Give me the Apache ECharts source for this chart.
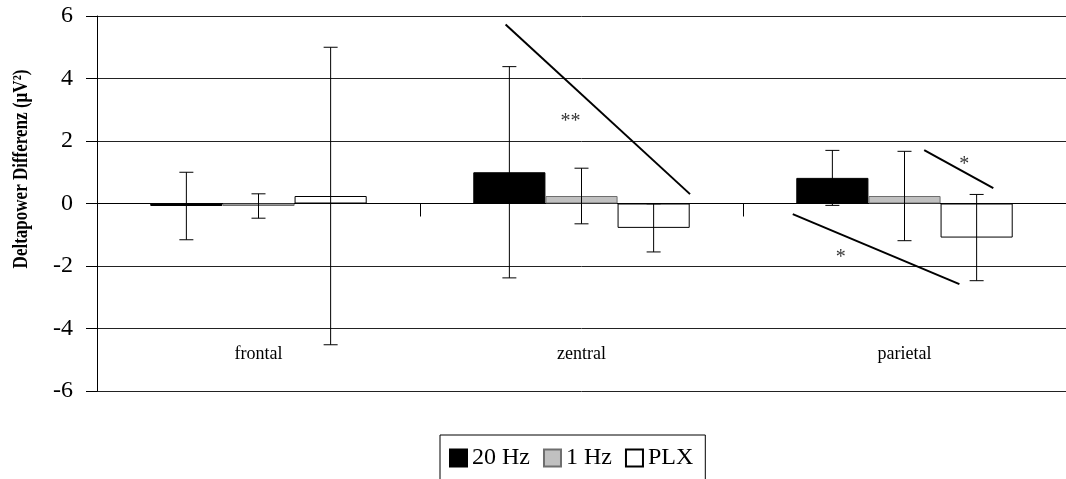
<!DOCTYPE html>
<html>
<head>
<meta charset="utf-8">
<script src="https://cdn.jsdelivr.net/npm/echarts@6/dist/echarts.min.js"></script>
<style>
  html, body { margin: 0; padding: 0; background: #fff; }
  #chart { width: 1066px; height: 479px; }
</style>
</head>
<body>
<div id="chart"></div>
<script>
// Regions and stimulation conditions
const categories = ['frontal', 'zentral', 'parietal'];
const seriesNames = ['20 Hz', '1 Hz', 'PLX'];
const yTitle = 'Deltapower Differenz (µV²)';

// Mean change of delta power (µV²) per region
const hz20 = [-0.08, 1.00, 0.82];
const hz1 = [-0.08, 0.24, 0.24];
const plx = [0.24, -0.78, -1.09];

// Error bar half-widths (µV²)
const hz20Err = [1.08, 3.38, 0.88];
const hz1Err = [0.39, 0.89, 1.43];
const plxErr = [4.76, 0.77, 1.38];

// Y-axis ticks
const yMin = -6, yMax = 6, yStep = 2;

// Significance markers: segment endpoints on a 0..3 region scale, and star labels
const sigLines = [
  [[1.265, 5.73], [1.836, 0.30]],
  [[2.561, 1.71], [2.775, 0.49]],
  [[2.154, -0.34], [2.670, -2.58]]
];
const sigLabels = [
  { x: 1.466, y: 2.61, text: '**' },
  { x: 2.685, y: 1.24, text: '*' },
  { x: 2.303, y: -1.73, text: '*' }
];

const serif = 'Liberation Serif';
const catGap = 0.33;
const values = [hz20, hz1, plx];
const errs = [hz20Err, hz1Err, plxErr];
const fills = ['#000000', '#c0c0c0', '#ffffff'];
const borders = ['#000000', '#6e6e6e', '#000000'];

function errorRenderer(k) {
  return function (params, api) {
    const idx = api.value(0);
    const hi = api.value(1);
    const lo = api.value(2);
    const band = api.size([1, 0])[0];
    const barW = band * (1 - catGap) / 3;
    const cx = api.coord([idx, 0])[0] + (k - 1) * barW;
    const yHi = api.coord([idx, hi])[1];
    const yLo = api.coord([idx, lo])[1];
    const cap = 7;
    const st = { stroke: '#000', lineWidth: 1 };
    return {
      type: 'group',
      children: [
        { type: 'line', shape: { x1: cx, y1: yHi, x2: cx, y2: yLo }, style: st },
        { type: 'line', shape: { x1: cx - cap, y1: yHi, x2: cx + cap, y2: yHi }, style: st },
        { type: 'line', shape: { x1: cx - cap, y1: yLo, x2: cx + cap, y2: yLo }, style: st }
      ]
    };
  };
}

const series = [];
values.forEach(function (vals, k) {
  series.push({
    name: seriesNames[k],
    type: 'bar',
    xAxisIndex: 0,
    data: vals,
    barGap: '0%',
    barCategoryGap: (catGap * 100) + '%',
    itemStyle: { color: fills[k], borderColor: borders[k], borderWidth: 1 },
    z: 2
  });
});
values.forEach(function (vals, k) {
  series.push({
    type: 'custom',
    xAxisIndex: 0,
    renderItem: errorRenderer(k),
    data: vals.map(function (v, i) { return [i, v + errs[k][i], v - errs[k][i]]; }),
    z: 5,
    silent: true
  });
});
sigLines.forEach(function (seg) {
  series.push({
    type: 'line',
    xAxisIndex: 1,
    data: seg,
    symbol: 'none',
    lineStyle: { color: '#000', width: 2 },
    z: 6,
    silent: true
  });
});
series.push({
  type: 'scatter',
  xAxisIndex: 1,
  symbolSize: 0,
  data: sigLabels.map(function (s) { return { value: [s.x, s.y], name: s.text }; }),
  label: {
    show: true,
    position: 'inside',
    formatter: function (p) { return p.name; },
    fontFamily: serif,
    fontSize: 20,
    color: '#000'
  },
  z: 7,
  silent: true
});

const chart = echarts.init(document.getElementById('chart'), null, { renderer: 'canvas' });
chart.setOption({
  animation: false,
  backgroundColor: '#fff',
  grid: { left: 97, right: 0, top: 16, bottom: 88, containLabel: false, outerBoundsMode: 'none' },
  // Rotated y-axis title, condensed along its reading direction
  graphic: [{
    type: 'text',
    x: 21.5,
    y: 169,
    rotation: Math.PI / 2,
    scaleX: 0.81,
    style: {
      text: yTitle,
      fontFamily: serif,
      fontSize: 21,
      fontWeight: 'bold',
      fill: '#000',
      align: 'center',
      verticalAlign: 'middle'
    }
  }],
  legend: {
    data: seriesNames,
    left: 440,
    top: 435,
    orient: 'horizontal',
    icon: 'rect',
    itemWidth: 17,
    itemHeight: 17,
    itemGap: 13,
    padding: [11, 12, 12, 9],
    borderColor: '#000',
    borderWidth: 1,
    textStyle: { fontFamily: serif, fontSize: 24, color: '#000' }
  },
  xAxis: [
    {
      type: 'category',
      data: categories,
      boundaryGap: true,
      axisLine: { onZero: true, lineStyle: { color: '#000', width: 1 } },
      axisTick: { show: true, interval: 0, length: 13, lineStyle: { color: '#000' } },
      axisLabel: { show: false },
      splitLine: { show: false }
    },
    {
      type: 'value',
      min: 0,
      max: 3,
      show: false
    },
    {
      // Region names, printed just above the bottom of the plot area
      type: 'category',
      data: categories,
      position: 'bottom',
      boundaryGap: true,
      axisLine: { show: false, onZero: false },
      axisTick: { show: false },
      axisLabel: { margin: -46, fontFamily: serif, fontSize: 18, color: '#000' },
      splitLine: { show: false }
    }
  ],
  yAxis: {
    type: 'value',
    min: yMin,
    max: yMax,
    interval: yStep,
    axisLine: { show: true, lineStyle: { color: '#000', width: 1 } },
    axisTick: { show: true, length: 11, lineStyle: { color: '#000' } },
    axisLabel: { margin: 24, fontFamily: serif, fontSize: 24, color: '#000' },
    splitLine: { show: true, lineStyle: { color: '#222', width: 1 } }
  },
  series: series
});
</script>
</body>
</html>
